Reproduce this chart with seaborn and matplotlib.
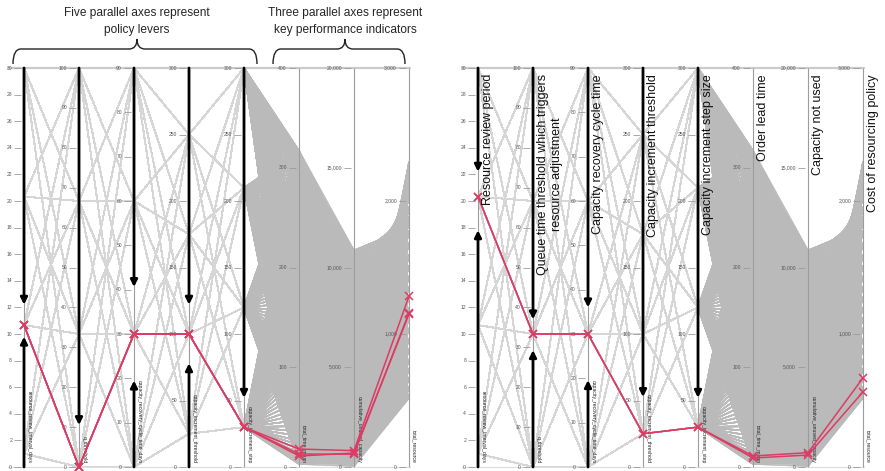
import itertools
import numpy as np
import pandas as pd
import seaborn as sns
import matplotlib.pyplot as plt
from matplotlib.path import Path
from matplotlib.patches import PathPatch

# ---- policy lever levels (full factorial design) ----
review_levels = [1.0, 10.67, 20.33, 30.0]        # resource review period, days
queue_levels = [0.0, 33.33, 66.67, 100.0]        # queue-time threshold
recovery_levels = [0.0, 30.0, 60.0, 90.0]        # capacity recovery cycle time, days
threshold_levels = [25.0, 100.0, 175.0, 250.0]   # capacity increment threshold
step_levels = [30.0, 120.0, 210.0, 300.0]        # capacity increment step size
replications = 3

# ---- observed KPI outcome values ----
lead_time_values = [3, 5, 8, 11, 14, 18, 22, 26, 31, 36, 41, 47, 53, 59, 66, 73,
                    80, 88, 96, 104, 112, 120, 129, 138, 147, 156, 165, 174, 183, 192, 201, 210,
                    219, 228, 237, 246, 255, 264, 272, 280, 286, 292, 297, 301, 305, 309, 313, 317]
unused_capacity_values = [40, 110, 190, 280, 380, 490, 610, 740, 880, 1030, 1190, 1360,
                          1540, 1730, 1930, 2140, 2360, 2590, 2830, 3080, 3340, 3610, 3890, 4180,
                          4470, 4770, 5070, 5380, 5690, 6000, 6320, 6640, 6960, 7280, 7600, 7920,
                          8240, 8550, 8860, 9160, 9450, 9730, 9990, 10230, 10440, 10620, 10760, 10850]
cost_values = [520, 580, 650, 720, 790, 870, 950, 1030, 1110, 1190, 1270, 1350,
               1430, 1510, 1590, 1680, 1770, 1860, 1950, 2040, 2120, 2190, 2250, 2290]
# highest resourcing cost seen in each band of three unused-capacity values
cost_ceiling = [2290, 2290, 2290, 2290, 2280, 2260, 2240, 2210,
                2180, 2140, 2100, 2060, 2010, 1950, 1880, 1800]

# ---- highlighted policies ----
left_policy = [10.67, 0.0, 30.0, 100.0, 30.0]
left_lead = [18, 13, 11]
left_unused = [820, 640, 700]
left_cost = [1285, 1160, 1150]

right_policy = [20.33, 33.33, 30.0, 25.0, 30.0]
right_lead = [11, 9]
right_unused = [720, 600]
right_cost = [670, 565]

# ---- axes ----
axis_names = ["resource_review_interval_days", "q_threshold", "capacity_recovery_cycle_time_days",
              "capacity_increment_threshold", "capacity_increment_step", "total_time_mean",
              "cumulative_unused_capacity", "total_resource"]
axis_titles = ["Resource review period", "Queue time threshold which triggers\nresource adjustment",
               "Capacity recovery cycle time", "Capacity increment threshold",
               "Capacity increment step size", "Order lead time", "Capacity not used",
               "Cost of resourcing policy"]
axis_max = [30, 100, 90, 300, 300, 400, 20000, 3000]
axis_step = [2, 10, 10, 50, 50, 100, 5000, 1000]

# brushed ranges on the lever axes (None = open end)
left_brush_top = [12.2, 10.5, 40.6, 122, 52]
left_brush_bottom = [9.8, None, 19.5, 78, None]
right_brush_top = [22.2, 37, 36, 52.6, 52]
right_brush_bottom = [17.8, 29.3, 19.6, None, None]

sns.set_theme(style="white")
plt.rcParams["font.family"] = ["Liberation Sans", "DejaVu Sans"]

W, H = 885, 471
PX_X, PX_Y = 55.0, 399.0          # pixels per axis gap / per full axis height
TOP_PX, BOT_PX = 68, 467
fig = plt.figure(figsize=(W / 100, H / 100), dpi=100)

RED = "#dc3c64"

# ---- simulation runs table ----
levers = list(itertools.product(review_levels, queue_levels, recovery_levels,
                                threshold_levels, step_levels))
runs = pd.DataFrame(levers * replications, columns=axis_names[:5])
r = np.arange(len(runs))
m = r // len(step_levels)
a = m // len(lead_time_values)
b = m % len(lead_time_values)
k = (3 * a + b) % len(unused_capacity_values)
c = (a + 2 * b) % len(cost_values)
runs[axis_names[5]] = np.take(lead_time_values, b)
runs[axis_names[6]] = np.take(unused_capacity_values, k)
runs[axis_names[7]] = np.minimum(np.take(cost_values, c), np.take(cost_ceiling, k // 3))
runs["run"] = r

pos_of = {n: i for i, n in enumerate(axis_names)}


def to_long(df, cols):
    long = df.melt(id_vars="run", value_vars=cols, var_name="axis", value_name="value")
    long["pos"] = long["axis"].map(pos_of)
    long["norm"] = long["value"] / long["pos"].map(lambda i: axis_max[i])
    return long.sort_values(["run", "pos"]).reset_index(drop=True)


lever_long = to_long(runs[runs["run"] < len(levers)], axis_names[:5])
kpi_long = to_long(runs, axis_names[4:])


def highlight_table(policy, lead, unused, cost):
    rows = []
    for j in range(len(lead)):
        rows.append(list(policy) + [lead[j], unused[j], cost[j]])
    df = pd.DataFrame(rows, columns=axis_names)
    df["run"] = range(len(df))
    return to_long(df, axis_names)


def panel_axes(x0px):
    mx, my = 0.45, 0.03
    left = x0px - mx * PX_X
    right = x0px + (7 + mx) * PX_X
    top = TOP_PX - my * PX_Y
    bottom = BOT_PX + my * PX_Y
    ax = fig.add_axes([left / W, 1 - bottom / H, (right - left) / W, (bottom - top) / H])
    return ax, mx, my


def draw_panel(x0px, red, brush_top, brush_bottom, titles):
    ax, mx, my = panel_axes(x0px)
    sns.lineplot(data=lever_long, x="pos", y="norm", units="run", estimator=None,
                 color="#d6d6d6", lw=0.8, ax=ax, legend=False, zorder=1)
    sns.lineplot(data=kpi_long, x="pos", y="norm", units="run", estimator=None,
                 color="#bababa", lw=1.0, alpha=0.5, ax=ax, legend=False, zorder=1.5)

    # frame lines
    ax.plot([-16 / PX_X, 7.02], [1, 1], color="#cbcbcb", lw=1.6, zorder=2)
    ax.plot([-16 / PX_X, 7.02], [0, 0], color="#dddddd", lw=0.8, zorder=2)
    ax.vlines(range(8), 0, 1, color="#9c9c9c", lw=0.8, zorder=2)

    # ticks and tick labels
    for i in range(8):
        vals = np.arange(0, axis_max[i] + axis_step[i] / 2, axis_step[i])
        ys = vals / axis_max[i]
        ax.hlines(ys, i - 10 / PX_X, i - 3 / PX_X, color="#9c9c9c", lw=0.6, zorder=3)
        for v, y in zip(vals, ys):
            ax.text(i - 12 / PX_X, y, f"{int(v):,}", ha="right", va="center",
                    fontsize=3.6, color="#555555", zorder=3)
        ax.text(i + 3 / PX_X, 4 / PX_Y, axis_names[i], rotation=270, ha="left", va="bottom",
                fontsize=3.7, color="#222222", zorder=4)

    # brushing arrows on the lever axes
    arrow = dict(arrowstyle="-|>", mutation_scale=10, lw=2.0, color="black",
                 shrinkA=0, shrinkB=0)
    for i in range(5):
        if brush_top[i] is not None:
            ax.annotate("", xy=(i, brush_top[i] / axis_max[i]), xytext=(i, 1.0),
                        arrowprops=arrow, zorder=4)
        if brush_bottom[i] is not None:
            ax.annotate("", xy=(i, brush_bottom[i] / axis_max[i]), xytext=(i, 0.0),
                        arrowprops=arrow, zorder=4)

    # highlighted policies
    sns.lineplot(data=red, x="pos", y="norm", units="run", estimator=None, color=RED,
                 lw=1.1, marker="x", markersize=6, markeredgewidth=1.1,
                 markeredgecolor=RED, ax=ax, legend=False, zorder=6)
    for ln in ax.lines[-len(red["run"].unique()):]:
        ln.set_clip_on(False)

    if titles is not None:
        for i, t in enumerate(titles):
            ax.text(i + 4 / PX_X, 1 - 6 / PX_Y, t, rotation=90, ha="left", va="top",
                    multialignment="center", linespacing=1.2, fontsize=9,
                    color="#111111", zorder=7)

    ax.set_xlim(-mx, 7 + mx)
    ax.set_ylim(-my, 1 + my)
    ax.set_axis_off()
    return ax


draw_panel(24, highlight_table(left_policy, left_lead, left_unused, left_cost),
           left_brush_top, left_brush_bottom, None)
draw_panel(478, highlight_table(right_policy, right_lead, right_unused, right_cost),
           right_brush_top, right_brush_bottom, axis_titles)


# ---- annotation braces and captions ----
def brace(x0, x1, xm, y_end, y_mid, y_tip, rad=8):
    pts = [(x0, y_end), (x0, y_mid), (x0 + rad, y_mid), (xm - rad, y_mid),
           (xm, y_mid), (xm, y_tip), (xm, y_mid), (xm + rad, y_mid),
           (x1 - rad, y_mid), (x1, y_mid), (x1, y_end)]
    codes = [Path.MOVETO, Path.CURVE3, Path.CURVE3, Path.LINETO,
             Path.CURVE3, Path.CURVE3, Path.CURVE3, Path.CURVE3,
             Path.LINETO, Path.CURVE3, Path.CURVE3]
    verts = [(x / W, 1 - y / H) for x, y in pts]
    fig.add_artist(PathPatch(Path(verts, codes), transform=fig.transFigure,
                             fill=False, lw=1.0, edgecolor="#222222"))


brace(13, 257, 137, 64, 49, 39)
brace(273, 405, 345, 64, 49, 39)

fig.text(137 / W, 1 - 13 / H, "Five parallel axes represent", ha="center", va="center", fontsize=8.6)
fig.text(137 / W, 1 - 30 / H, "policy levers", ha="center", va="center", fontsize=8.6)
fig.text(345 / W, 1 - 13 / H, "Three parallel axes represent", ha="center", va="center", fontsize=8.6)
fig.text(345 / W, 1 - 30 / H, "key performance indicators", ha="center", va="center", fontsize=8.6)

fig.savefig("out.png", dpi=100)
